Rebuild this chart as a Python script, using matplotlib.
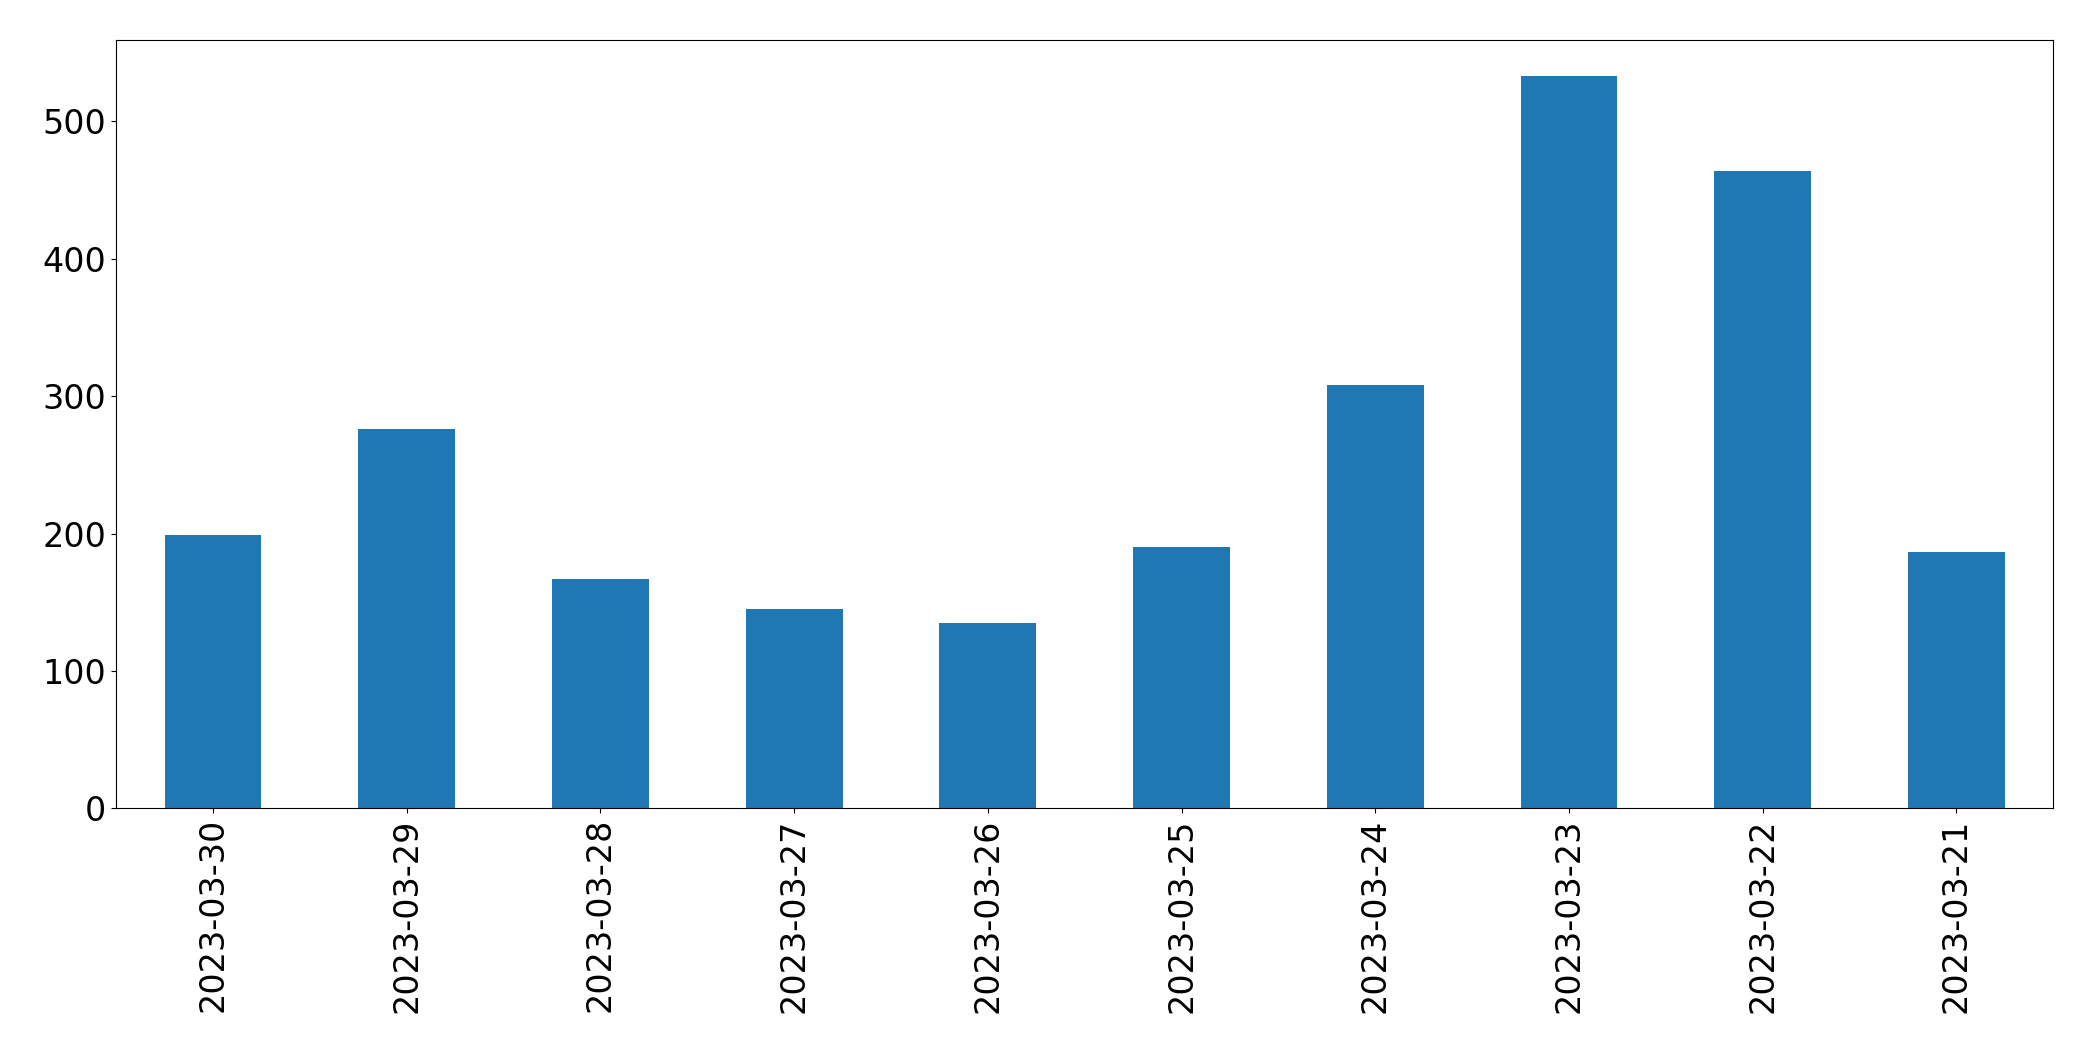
import matplotlib
matplotlib.use('Agg')
import matplotlib.pyplot as plt

dates = ['2023-03-30', '2023-03-29', '2023-03-28', '2023-03-27', '2023-03-26',
         '2023-03-25', '2023-03-24', '2023-03-23', '2023-03-22', '2023-03-21']
counts = [199, 276, 167, 145, 135, 190, 308, 533, 464, 187]

fig = plt.figure(figsize=(20.93, 10.61), dpi=100)
ax = fig.add_axes([0.0555, 0.238, 0.9255, 0.724])
ax.bar(range(len(dates)), counts, width=0.5, color='#1f77b4')
ax.set_xticks(range(len(dates)))
ax.set_xticklabels(dates, rotation=90)
ax.set_xlim(-0.5, len(dates) - 0.5)
ax.set_ylim(0, 559)
ax.tick_params(labelsize=24)
fig.savefig('out.png', dpi=100)
